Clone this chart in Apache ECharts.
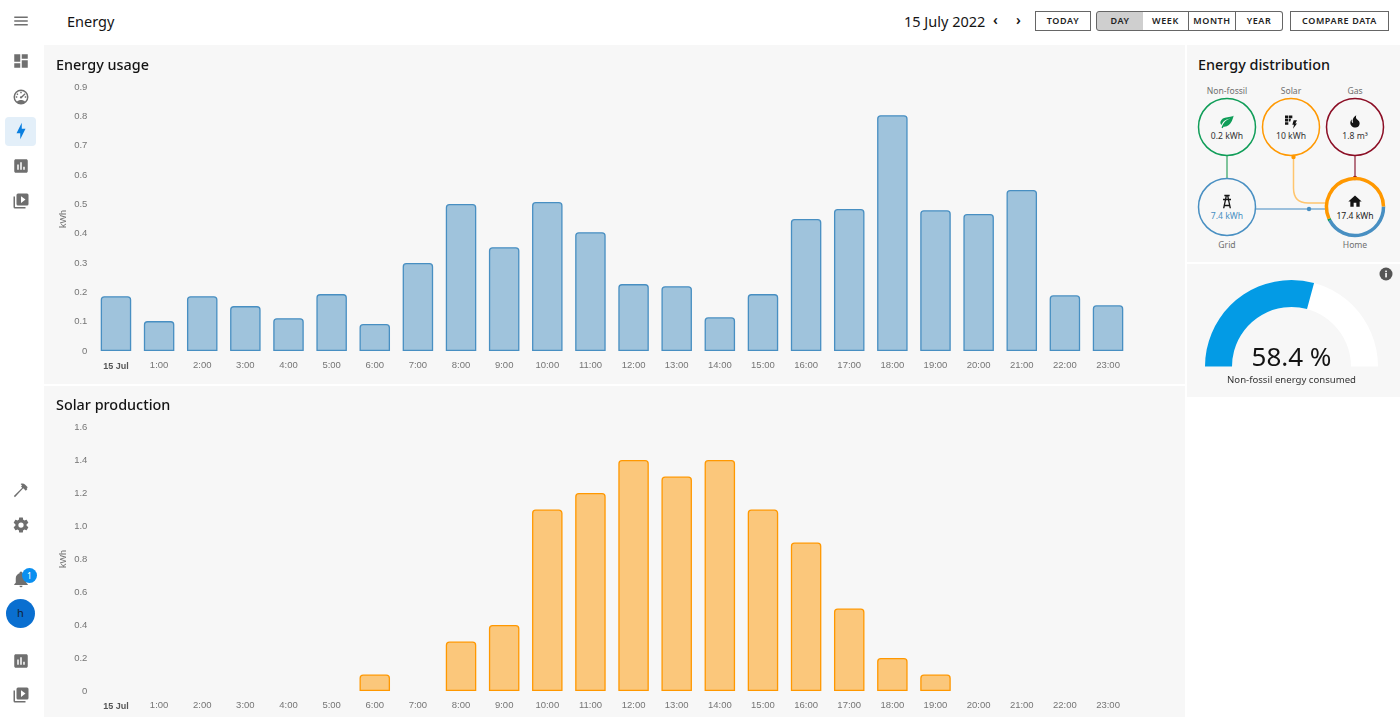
<!DOCTYPE html>
<html>
<head>
<meta charset="utf-8">
<title>Energy</title>
<script src="https://cdn.jsdelivr.net/npm/echarts@6/dist/echarts.min.js"></script>
<style>
html,body{margin:0;padding:0;background:#fff;width:1400px;height:717px;overflow:hidden;font-family:"Noto Sans",sans-serif;color:#141414}
.abs{position:absolute}
.panel{position:absolute;background:#f7f7f7}
.btn{position:absolute;top:11px;height:18px;line-height:18px;border:1px solid #666;text-align:center;font-size:9px;font-weight:600;letter-spacing:.6px;background:#fff;color:#222;box-sizing:content-box}
.icon{position:absolute;width:18px;height:18px;fill:#6f6f6f}
#nav .icon{left:11.5px}
</style>
</head>
<body>
<div id="nav"></div>
<div class="abs" style="left:67px;top:11px;font-size:14.5px;line-height:20px">Energy</div>
<div class="abs" style="left:904px;top:10px;font-size:14.5px;line-height:22px">15 July 2022</div>
<div class="abs" style="left:993px;top:10px;font-size:14px;line-height:20px;font-weight:600">‹</div>
<div class="abs" style="left:1016px;top:10px;font-size:14px;line-height:20px;font-weight:600">›</div>
<div class="btn" style="left:1035px;width:54px">TODAY</div>
<div class="btn" style="left:1096px;width:46px;background:#cfcfcf;border-radius:3px 0 0 3px">DAY</div>
<div class="btn" style="left:1143px;width:45px;border-left:0">WEEK</div>
<div class="btn" style="left:1189px;width:46px;border-left:0">MONTH</div>
<div class="btn" style="left:1236px;width:46px;border-left:0;border-radius:0 3px 3px 0">YEAR</div>
<div class="btn" style="left:1290px;width:97px">COMPARE DATA</div>

<div class="panel" id="usage" style="left:44px;top:45px;width:1141px;height:339px"></div>
<div class="panel" id="solar" style="left:44px;top:386px;width:1141px;height:331px"></div>
<div class="panel" style="left:1187px;top:45px;width:213px;height:217px">
  <div class="abs" style="left:11px;top:9px;font-size:14.4px;font-weight:500;line-height:22px">Energy distribution</div>
</div>
<div class="panel" id="gauge" style="left:1187px;top:264px;width:213px;height:133px"></div>

<svg class="abs" style="left:1187px;top:45px" width="213" height="217" id="flow"></svg>
<svg class="abs" style="left:1378px;top:266px" width="16" height="16" viewBox="0 0 16 16">
  <circle cx="8" cy="8" r="6.5" fill="#555"/><rect x="7.2" y="7" width="1.7" height="4.4" fill="#f7f7f7"/><rect x="7.2" y="4.6" width="1.7" height="1.6" fill="#f7f7f7"/>
</svg>

<script>
var hours = ['15 Jul','1:00','2:00','3:00','4:00','5:00','6:00','7:00','8:00','9:00','10:00','11:00','12:00','13:00','14:00','15:00','16:00','17:00','18:00','19:00','20:00','21:00','22:00','23:00'];
var usageValues = [0.187,0.102,0.187,0.153,0.112,0.194,0.092,0.3,0.501,0.354,0.508,0.405,0.228,0.221,0.115,0.194,0.45,0.484,0.804,0.48,0.467,0.549,0.19,0.156];
var solarValues = [null,null,null,null,null,null,0.1,null,0.3,0.4,1.1,1.2,1.4,1.3,1.4,1.1,0.9,0.5,0.2,0.1,null,null,null,null];
var nonFossilShare = 58.4;

var ICONS = {
  menu:'M3,6H21V8H3V6M3,11H21V13H3V11M3,16H21V18H3V16Z',
  dash:'M13,3V9H21V3M13,21H21V11H13M3,21H11V15H3M3,13H11V3H3V13Z',
  gauge:'M12,2A10,10 0 0,0 2,12A10,10 0 0,0 12,22A10,10 0 0,0 22,12A10,10 0 0,0 12,2M12,4A8,8 0 0,1 20,12C20,14.4 19,16.5 17.3,18C15.9,16.7 14,16 12,16C10,16 8.2,16.7 6.7,18C5,16.5 4,14.4 4,12A8,8 0 0,1 12,4M11,5V7H13V5H11M7,7L6,8.5L7.5,9.5L8.5,8L7,7M17,7L12.6,11A1.5,1.5 0 0,0 12,11A1.5,1.5 0 1,0 13.4,13L18,8.2L17,7M5,11V13H7V11H5M17,11V13H19V11H17Z',
  bolt:'M11 15H6L13 1V9H18L11 23V15Z',
  chart:'M19 3H5C3.9 3 3 3.9 3 5V19C3 20.1 3.9 21 5 21H19C20.1 21 21 20.1 21 19V5C21 3.9 20.1 3 19 3M9 17H7V10H9V17M13 17H11V7H13V17M17 17H15V13H17V17Z',
  media:'M4,6H2V20A2,2 0 0,0 4,22H18V20H4V6M20,2H8A2,2 0 0,0 6,4V16A2,2 0 0,0 8,18H20A2,2 0 0,0 22,16V4A2,2 0 0,0 20,2M12,14.5V5.5L18,10L12,14.5Z',
  hammer:'M2.5,20.1L13.6,9L12,7.4L13.4,6L11.5,4.1C13.5,2.9 16,3.4 17.6,5L21,8.4L19.6,9.8L20.6,10.8L18.4,13L17.4,12L15,9.6L3.9,21.5Z',
  cog:'M12,15.5A3.5,3.5 0 0,1 8.5,12A3.5,3.5 0 0,1 12,8.5A3.5,3.5 0 0,1 15.5,12A3.5,3.5 0 0,1 12,15.5M19.43,12.97C19.47,12.65 19.5,12.33 19.5,12C19.5,11.67 19.47,11.34 19.43,11L21.54,9.37C21.73,9.22 21.78,8.95 21.66,8.73L19.66,5.27C19.54,5.05 19.27,4.96 19.05,5.05L16.56,6.05C16.04,5.66 15.5,5.32 14.87,5.07L14.5,2.42C14.46,2.18 14.25,2 14,2H10C9.75,2 9.54,2.18 9.5,2.42L9.13,5.07C8.5,5.32 7.96,5.66 7.44,6.05L4.95,5.05C4.73,4.96 4.46,5.05 4.34,5.27L2.34,8.73C2.21,8.95 2.27,9.22 2.46,9.37L4.57,11C4.53,11.34 4.5,11.67 4.5,12C4.5,12.33 4.53,12.65 4.57,12.97L2.46,14.63C2.27,14.78 2.21,15.05 2.34,15.27L4.34,18.73C4.46,18.95 4.73,19.03 4.95,18.95L7.44,17.94C7.96,18.34 8.5,18.68 9.13,18.93L9.5,21.58C9.54,21.82 9.75,22 10,22H14C14.25,22 14.46,21.82 14.5,21.58L14.87,18.93C15.5,18.67 16.04,18.34 16.56,17.94L19.05,18.95C19.27,19.03 19.54,18.95 19.66,18.73L21.66,15.27C21.78,15.05 21.73,14.78 21.54,14.63L19.43,12.97Z',
  bell:'M21,19V20H3V19L5,17V11C5,7.9 7.03,5.17 10,4.29C10,4.19 10,4.1 10,4A2,2 0 0,1 12,2A2,2 0 0,1 14,4C14,4.1 14,4.19 14,4.29C16.97,5.17 19,7.9 19,11V17L21,19M14,21A2,2 0 0,1 12,23A2,2 0 0,1 10,21',
  home:'M10,20V14H14V20H19V12H22L12,3L2,12H5V20H10Z',
  leaf:'M17,8C8,10 5.9,16.17 3.82,21.34L5.71,22L6.66,19.7C7.14,19.87 7.64,20 8,20C19,20 22,3 22,3C21,5 14,5.25 9,6.25C4,7.25 2,11.5 2,13.5C2,15.5 3.75,17.25 3.75,17.25C7,8 17,8 17,8Z',
  fire:'M17.66 11.2C17.43 10.9 17.15 10.64 16.89 10.38C16.22 9.78 15.46 9.35 14.82 8.72C13.33 7.26 13 4.85 13.95 3C13 3.23 12.17 3.75 11.46 4.32C8.87 6.4 7.85 10.07 9.07 13.22C9.11 13.32 9.15 13.42 9.15 13.55C9.15 13.77 9 13.97 8.8 14.05C8.57 14.15 8.33 14.09 8.14 13.93C8.08 13.88 8.04 13.83 8 13.76C6.87 12.33 6.69 10.28 7.45 8.64C5.78 10 4.87 12.3 5 14.47C5.06 14.97 5.12 15.47 5.29 15.97C5.43 16.57 5.7 17.17 6 17.7C7.08 19.43 8.95 20.67 10.96 20.92C13.1 21.19 15.39 20.8 17.03 19.32C18.86 17.66 19.5 15 18.56 12.72L18.43 12.46C18.28 12.13 17.66 11.2 17.66 11.2Z',
  tower:'M8,2H16V4H14.2L15,8H18V10H15.4L18,22H15.9L15.3,19H8.7L8.1,22H6L8.6,10H6V8H9L9.8,4H8V2M11.8,4L11,8H13L12.2,4H11.8M10.6,10L9.1,17H14.9L13.4,10H10.6Z',
  solar:'M3,3H8V7H3V3M9,3H14V7H9V3M3,8H8V12H3V8M9,8H12L11,12H9V8M3,13H8V17H3V13M16,10H21L18.5,15H21L15,23L16.5,17H14L16,10Z'
};

// sidebar
var navItems = [['menu',21],['dash',61],['gauge',97],['chart',166],['media',201],['hammer',490],['cog',525],['bell',579],['chart',661],['media',695]];
var navHtml = '<div class="abs" style="left:5px;top:117px;width:31px;height:29px;border-radius:4px;background:#e3eff9"></div>';
navHtml += '<svg class="icon" style="top:122px;fill:#0a7fe0" viewBox="0 0 24 24"><path d="'+ICONS.bolt+'"/></svg>';
for(var i=0;i<navItems.length;i++){
    navHtml += '<svg class="icon" style="top:'+(navItems[i][1]-9)+'px" viewBox="0 0 24 24"><path d="'+ICONS[navItems[i][0]]+'"/></svg>';
}
navHtml += '<div class="abs" style="left:22px;top:568px;width:15px;height:15px;border-radius:50%;background:#0a8ff0;color:#fff;font-size:8.5px;line-height:15px;text-align:center">1</div>';
navHtml += '<div class="abs" style="left:6px;top:599px;width:29px;height:29px;border-radius:50%;background:#0a6fd0;color:#123;font-size:11px;line-height:28px;text-align:center">h</div>';
document.getElementById('nav').innerHTML = navHtml;

// energy distribution diagram
function node(cx,cy,color,icon,value,valueColor,label,labelY){
    var s = '<circle cx="'+cx+'" cy="'+cy+'" r="28.5" fill="none" stroke="'+color+'" stroke-width="1.5"/>';
    s += '<svg x="'+(cx-8)+'" y="'+(cy-13.5)+'" width="16" height="16" viewBox="0 0 24 24"><path d="'+ICONS[icon]+'" fill="'+(icon=='leaf'?'#0f9d58':'#141414')+'"/></svg>';
    s += '<text x="'+cx+'" y="'+(cy+12)+'" text-anchor="middle" font-size="8.6" fill="'+valueColor+'">'+value+'</text>';
    s += '<text x="'+cx+'" y="'+labelY+'" text-anchor="middle" font-size="8.6" fill="#6f6f6f">'+label+'</text>';
    return s;
}
function arc(cx,cy,r,a0,a1,color){
    var p0=[cx+r*Math.cos(a0*Math.PI/180),cy+r*Math.sin(a0*Math.PI/180)];
    var p1=[cx+r*Math.cos(a1*Math.PI/180),cy+r*Math.sin(a1*Math.PI/180)];
    return '<path d="M'+p0[0]+' '+p0[1]+'A'+r+' '+r+' 0 '+(Math.abs(a1-a0)>180?1:0)+' 1 '+p1[0]+' '+p1[1]+'" fill="none" stroke="'+color+'" stroke-width="3.5"/>';
}
var flow = '';
flow += '<path d="M40 111V133" stroke="#7fc49c" stroke-width="2" fill="none"/>';
flow += '<path d="M106.5 111V143Q106.5 158 121 158H140" stroke="#ffc56e" stroke-width="1.5" fill="none"/>';
flow += '<path d="M168 111V133" stroke="#a0485c" stroke-width="1.5" fill="none"/>';
flow += '<path d="M69 164H139" stroke="#9cc0dc" stroke-width="2" fill="none"/>';
flow += '<circle cx="106.5" cy="112" r="2.2" fill="#ff9800"/><circle cx="168" cy="133" r="2.2" fill="#8b0d24"/><circle cx="122" cy="164" r="2.2" fill="#488fc2"/>';
flow += node(40,82,'#0f9d58','leaf','0.2 kWh','#333','Non-fossil',49);
flow += node(104,82,'#ff9800','solar','10 kWh','#333','Solar',49);
flow += node(168,82,'#8b0d24','fire','1.8 m³','#333','Gas',49);
flow += node(40,162,'#488fc2','tower','7.4 kWh','#488fc2','Grid',203);
flow += node(168,162,'transparent','home','17.4 kWh','#222','Home',203);
flow += arc(168,162,28.5,-1,152,'#488fc2')+arc(168,162,28.5,152,156,'#0f9d58')+arc(168,162,28.5,156,359,'#ff9800');
document.getElementById('flow').innerHTML = flow;

var FONT = '"Liberation Sans",Arial,sans-serif';
function barOption(title,titleTop,data,color,fill,yMax,yStep,gridTop,gridHeight){
    return {
        animation:false,
        title:{text:title,left:7,top:titleTop,textStyle:{fontFamily:'"Noto Sans"',fontSize:14.4,fontWeight:500,color:'#141414'}},
        grid:{left:50.4,right:55.4,top:gridTop,height:gridHeight},
        xAxis:{
            type:'category',data:hours,
            axisLine:{show:false},axisTick:{show:false},
            axisLabel:{
                margin:9,interval:0,fontFamily:FONT,fontSize:9.5,color:'#757575',
                formatter:function(v,i){return i==0?'{b|'+v+'}':v;},
                rich:{b:{fontFamily:FONT,fontSize:9,fontWeight:'bold',color:'#555',padding:[2,0,0,0]}}
            }
        },
        yAxis:{
            type:'value',min:0,max:yMax,interval:yStep,
            name:'kWh',nameLocation:'middle',nameGap:26,nameRotate:90,nameMoveOverlap:false,
            nameTextStyle:{fontFamily:FONT,fontSize:9,color:'#757575'},
            axisLine:{show:false},axisTick:{show:false},splitLine:{show:false},
            axisLabel:{margin:7,fontFamily:FONT,fontSize:9.5,color:'#757575',
                formatter:function(v){return v==0?'0':v.toFixed(1);}}
        },
        series:[{
            type:'bar',data:data,barWidth:30.5,
            itemStyle:{color:fill,borderColor:color,borderWidth:1.3,borderRadius:[3,3,0,0]}
        }]
    };
}

var usageChart = echarts.init(document.getElementById('usage'));
usageChart.setOption(barOption('Energy usage',9,usageValues,'#488fc2','rgba(72,143,194,0.5)',0.9,0.1,42,264));

var solarChart = echarts.init(document.getElementById('solar'));
solarChart.setOption(barOption('Solar production',8,solarValues,'#ff9800','rgba(255,152,0,0.5)',1.6,0.2,41,264));

var gaugeChart = echarts.init(document.getElementById('gauge'));
gaugeChart.setOption({
    animation:false,
    series:[{
        type:'gauge',startAngle:180,endAngle:0,min:0,max:100,
        center:[104.5,102.5],radius:86.5,
        pointer:{show:false},axisTick:{show:false},splitLine:{show:false},axisLabel:{show:false},
        progress:{show:true,width:27,itemStyle:{color:'#039be5'}},
        axisLine:{lineStyle:{width:27,color:[[1,'#ffffff']]}},
        title:{show:true,offsetCenter:[0,14],fontFamily:'"Noto Sans"',fontSize:9.6,color:'#333'},
        detail:{show:true,offsetCenter:[0,-8],fontFamily:'"Noto Sans"',fontSize:26,fontWeight:'normal',color:'#141414',formatter:'{value} %'},
        data:[{value:nonFossilShare,name:'Non-fossil energy consumed'}]
    }]
});
</script>
</body>
</html>
